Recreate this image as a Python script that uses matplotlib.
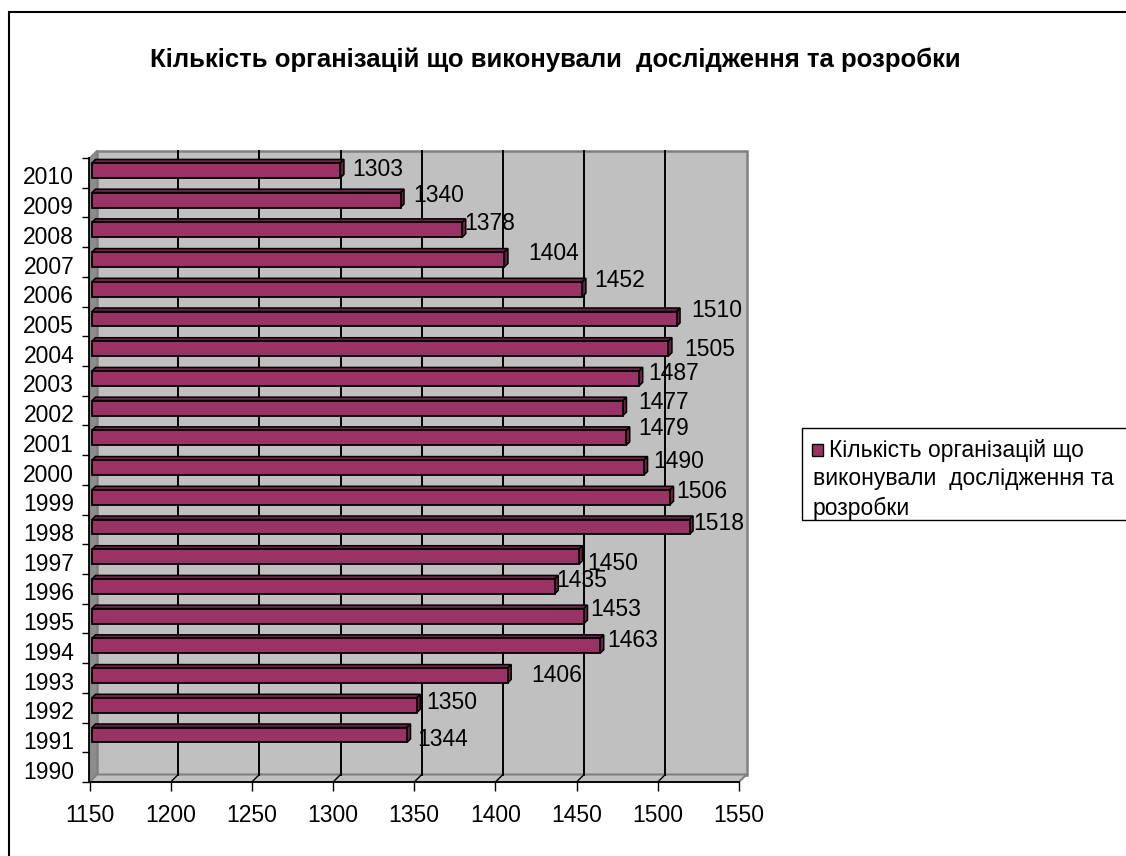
import matplotlib
matplotlib.use('Agg')
import matplotlib.pyplot as plt
import matplotlib.transforms as mtransforms
from matplotlib.patches import Rectangle, Polygon
import numpy as np

# ==== дані ====
years = [str(y) for y in range(1990, 2011)]
bar_years = years[1:]            # 1990 без значення
values = [1344, 1350, 1406, 1463, 1453, 1435, 1450, 1518, 1506, 1490,
          1479, 1477, 1487, 1505, 1510, 1452, 1404, 1378, 1340, 1303]
xticks = [1150, 1200, 1250, 1300, 1350, 1400, 1450, 1500, 1550]
title = 'Кількість організацій що виконували  дослідження та розробки'
legend_label = 'Кількість організацій що\nвиконували  дослідження та\nрозробки'

# зсуви підписів (px), як їх розставив Excel
label_dx = [38, 37, 52, 35, 34, 29, 36, 32, 34, 37, 40, 43, 37, 44, 43, 40, 52, 30, 41, 40]
label_dy = [-4, 3, 0, 6, 7, 6, -6, 4, 6, 7, 10, 6, 5, 0, 9, 9, 7, 7, 5, 1]

plt.rcParams['font.family'] = ['Liberation Sans', 'DejaVu Sans']
fs = 16.5

W, H = 1126, 856
fig = plt.figure(figsize=(W / 100, H / 100), dpi=100)

# передня площина осей в пікселях
x0, x1 = 89.5, 739
y0, y1 = 158, 782
ax = fig.add_axes([x0 / W, 1 - y1 / H, (x1 - x0) / W, (y1 - y0) / H])
ax.set_xlim(xticks[0], xticks[-1])
ax.set_ylim(-0.5, len(years) - 0.5)
ax.patch.set_visible(False)

depth = 7.5                       # глибина стінок, px
ux = (xticks[-1] - xticks[0]) / (x1 - x0)
uy = len(years) / (y1 - y0)
dxa, dya = depth / (x1 - x0), depth / (y1 - y0)

wall = '#C0C0C0'
edge = '#808080'
# задня стінка
ax.add_patch(Rectangle((dxa, dya), 1, 1, transform=ax.transAxes, facecolor=wall,
                       edgecolor=edge, lw=1.8, zorder=0, clip_on=False))
# ліва стінка
ax.add_patch(Polygon([(0, 0), (dxa, dya), (dxa, 1 + dya), (0, 1)], closed=True,
                     transform=ax.transAxes, facecolor='#8C8C8C', edgecolor=edge,
                     lw=1, zorder=0.5, clip_on=False))
# підлога
ax.add_patch(Polygon([(0, 0), (1, 0), (1 + dxa, dya), (dxa, dya)], closed=True,
                     transform=ax.transAxes, facecolor=wall, edgecolor=edge,
                     lw=1.5, zorder=0.5, clip_on=False))

# сітка на задній стінці
gt = ax.get_xaxis_transform()
for v in xticks[1:-1]:
    ax.plot([v + depth * ux] * 2, [dya, 1 + dya], transform=gt, color='black',
            lw=1.4, zorder=1, clip_on=False)
    ax.plot([v, v + depth * ux], [0, dya], transform=gt, color='black',
            lw=1, zorder=1, clip_on=False)

# бари
pos = np.arange(1, len(years))
h = 0.5
bo = 2.5   # зсув передньої грані бара, px
bd = 3.5   # глибина бара, px
off = mtransforms.offset_copy(ax.transData, fig=fig, x=bo, y=bo, units='dots')
bar_color = '#993366'
side_color = '#6E2248'
bars = ax.barh(pos, np.array(values) - xticks[0], left=xticks[0], height=h,
               color=bar_color, edgecolor='black', lw=1.3, zorder=3)
for b, yi, v in zip(bars, pos, values):
    b.set_transform(off)
    side = [(v, yi - h / 2), (v + bd * ux, yi - h / 2 + bd * uy),
            (v + bd * ux, yi + h / 2 + bd * uy), (v, yi + h / 2)]
    top = [(xticks[0], yi + h / 2), (v, yi + h / 2),
           (v + bd * ux, yi + h / 2 + bd * uy), (xticks[0] + bd * ux, yi + h / 2 + bd * uy)]
    for pts in (top, side):
        ax.add_patch(Polygon(pts, closed=True, transform=off, facecolor=side_color,
                             edgecolor='black', lw=1.1, zorder=2.9, clip_on=False))

# підписи значень
for yi, v, dx, dy in zip(pos, values, label_dx, label_dy):
    ax.annotate(str(v), xy=(v, yi), xytext=(dx * 0.72, (dy + 2) * 0.72),
                textcoords='offset points', ha='center', va='center',
                fontsize=fs, color='black', zorder=5, annotation_clip=False)

# осі
for s in ['top', 'right']:
    ax.spines[s].set_visible(False)
for s in ['left', 'bottom']:
    ax.spines[s].set_color('black')
    ax.spines[s].set_linewidth(1.3)
    ax.spines[s].set_zorder(4)

ax.set_xticks(xticks)
ax.set_xticklabels([str(t) for t in xticks], fontsize=fs)
ax.tick_params(axis='x', length=6.5, width=1, pad=9.5, colors='black')

ax.set_yticks(np.arange(-0.5, len(years), 1.0))
ax.set_yticklabels([])
ax.set_yticks(np.arange(len(years)), minor=True)
ax.set_yticklabels(years, minor=True, fontsize=fs)
ax.tick_params(axis='y', which='major', length=5, width=1)
ax.tick_params(axis='y', which='minor', length=0, pad=11)
shift = mtransforms.ScaledTranslation(0, -2.5 / 100, fig.dpi_scale_trans)
for lab in ax.get_yticklabels(minor=True):
    lab.set_transform(lab.get_transform() + shift)

# заголовок
fig.text(555 / W, 1 - 60 / H, title, ha='center', va='center',
         fontsize=18.5, fontweight='bold')

# рамка діаграми
fig.add_artist(Rectangle((9 / W, -0.1), 1.2, 1 - 12 / H + 0.1, transform=fig.transFigure,
                         fill=False, edgecolor='black', lw=1.5))

# легенда (вручну, як в Excel)
fig.add_artist(Rectangle((802 / W, 1 - 520 / H), 400 / W, 92 / H, transform=fig.transFigure,
                         facecolor='white', edgecolor='black', lw=1))
fig.add_artist(Rectangle((812 / W, 1 - 456 / H), 11 / W, 12 / H, transform=fig.transFigure,
                         facecolor=bar_color, edgecolor='black', lw=1))
lines = legend_label.split('\n')
for k, line in enumerate(lines):
    lx = 829 if k == 0 else 813
    fig.text(lx / W, 1 - (450 + 29 * k) / H, line, ha='left', va='center', fontsize=16.5)

plt.savefig('out.png', dpi=100)
